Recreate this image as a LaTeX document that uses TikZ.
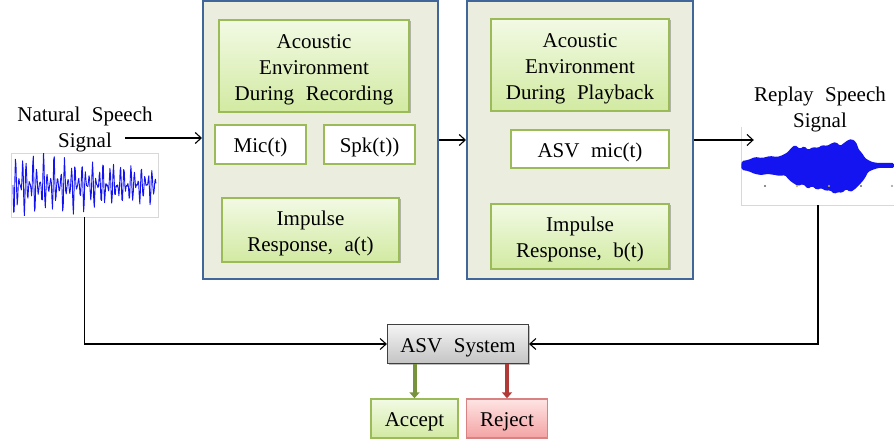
\documentclass[tikz,border=0pt]{standalone}
\usepackage{fontspec}
\setmainfont{Liberation Serif}[WordSpace=2.2]
\usetikzlibrary{arrows.meta,shadows,calc}

\definecolor{frameblue}{HTML}{41679A}
\definecolor{framefill}{HTML}{EBEEDF}
\definecolor{boxgreen}{HTML}{9BBB59}
\definecolor{greentop}{HTML}{F2FAE4}
\definecolor{greenbot}{HTML}{D2EAA2}
\definecolor{greytop}{HTML}{F4F4F4}
\definecolor{greybot}{HTML}{C4C4C4}
\definecolor{redtop}{HTML}{FFE4E4}
\definecolor{redbot}{HTML}{F3A3A3}
\definecolor{redline}{HTML}{D98282}
\definecolor{okgreen}{HTML}{77933C}
\definecolor{badred}{HTML}{B23A36}
\definecolor{wave}{HTML}{1414F0}
\definecolor{imgedge}{HTML}{D8D8D8}

% centred block of lines, set a little below the middle of its node
\newcommand{\lowertext}[1]{\raisebox{-3pt}[\height][\depth]{\begin{tabular}{@{}c@{}}#1\end{tabular}}}

\tikzset{
  frame/.style={draw=frameblue, line width=2pt, fill=framefill},
  envbox/.style={draw=boxgreen, line width=1.4pt, top color=greentop, bottom color=greenbot,
    inner sep=0pt,
    drop shadow={shadow xshift=1.5pt, shadow yshift=-1.5pt, fill=black, opacity=0.25}},
  plainbox/.style={draw=boxgreen, line width=2pt, fill=white, inner sep=0pt},
  asvbox/.style={draw=black!75, line width=1.2pt, top color=greytop, bottom color=greybot,
    inner sep=0pt, drop shadow={shadow xshift=1.5pt, shadow yshift=-1.5pt, fill=black, opacity=0.25}},
  okbox/.style={draw=boxgreen, line width=1.4pt, top color=greentop, bottom color=greenbot, inner sep=0pt},
  badbox/.style={draw=redline, line width=1.4pt, top color=redtop, bottom color=redbot, inner sep=0pt},
  conn/.style={draw=black, line width=1.1pt, -{Straight Barb[length=6pt,width=11pt]}},
  okarrow/.style={draw=okgreen, line width=4pt, -{Triangle[width=10pt,length=6pt]}},
  badarrow/.style={draw=badred, line width=4pt, -{Triangle[width=10pt,length=6pt]}},
  label/.style={inner sep=0pt},
}

\begin{document}
\begin{tikzpicture}[x=1pt, y=-1pt, font=\fontsize{21}{26}\selectfont]
\useasboundingbox (0,0) rectangle (894,446);

% two environment frames
\node[frame, minimum width=235pt, minimum height=278pt] (box1) at (320.5,140) {};
\node[frame, minimum width=226pt, minimum height=278pt] (box2) at (580,140) {};

% recording environment
\node[envbox, minimum width=190pt, minimum height=92pt] (envrec) at (314,66)
  {\lowertext{Acoustic\\Environment\\During Recording}};
\node[plainbox, minimum width=91pt, minimum height=39pt] (mic) at (260.5,144.5) {\lowertext{Mic(t)}};
\node[plainbox, minimum width=91pt, minimum height=39pt] (spk) at (369.5,144.5) {\lowertext{Spk(t))}};
\node[envbox, minimum width=177pt, minimum height=64pt] (impa) at (310.5,230)
  {\lowertext{Impulse\\Response, a(t)}};

% playback environment
\node[envbox, minimum width=178pt, minimum height=92pt] (envplay) at (580,65)
  {\lowertext{Acoustic\\Environment\\During Playback}};
\node[plainbox, minimum width=158pt, minimum height=38pt] (asvmic) at (590,149) {\lowertext{ASV mic(t)}};
\node[envbox, minimum width=178pt, minimum height=65pt] (impb) at (580,236.5)
  {\lowertext{Impulse\\Response, b(t)}};

% natural speech signal and its waveform
\node[label] (nattext) at (85,126) {\lowertext{Natural Speech\\Signal}};
\node[draw=imgedge, line width=0.8pt, minimum width=147pt, minimum height=64pt, inner sep=0pt]
  (natwave) at (84.5,185) {};
\begin{scope}
  \clip (12,154) rectangle (157,216);
  \draw[wave, line width=0.9pt, line join=round]
    plot[domain=0:143, samples=240]
    ({\x+13}, {185 + (33-15*\x/143)*sin(103*\x)*(0.55+0.45*sin(37*\x+20)) + 4*sin(103*\x)*cos(71*\x)});
\end{scope}

% replay speech signal: envelope of the recorded waveform
\node[label] (reptext) at (820,106) {\lowertext{Replay Speech\\Signal}};
\node[inner sep=0pt, minimum width=152pt, minimum height=78pt] (repwave) at (818,166) {};
\draw[imgedge, line width=0.8pt] (repwave.north west) -- (repwave.south west) -- (repwave.south east);
\fill[wave, rounded corners=1.5pt]
  (741,166) -- (742,161) -- (748,160) -- (755,157) -- (762,158) -- (770,156) -- (777,157)
  -- (783,155) -- (788,152) -- (791,148) -- (795,145) -- (800,149) -- (804,146) -- (808,150)
  -- (813,147) -- (818,148) -- (822,145) -- (827,146) -- (832,143) -- (836,142) -- (840,146)
  -- (844,143) -- (848,140) -- (852,139) -- (856,142) -- (859,150) -- (862,153) -- (865,158)
  -- (868,160) -- (872,162) -- (878,163) -- (886,163) -- (894,163)
  -- (894,168) -- (886,168) -- (878,168) -- (872,170) -- (868,172) -- (865,178) -- (862,182)
  -- (858,186) -- (854,190) -- (850,192) -- (846,189) -- (842,193) -- (838,192) -- (834,194)
  -- (830,190) -- (826,191) -- (821,188) -- (817,190) -- (812,186) -- (808,189) -- (803,184)
  -- (798,186) -- (793,183) -- (789,180) -- (785,175) -- (780,176) -- (775,175) -- (768,174)
  -- (761,175) -- (755,174) -- (748,171) -- (742,170) -- cycle;
\foreach \dx/\dc in {765/black!60, 797/yellow!70!black, 829/yellow!70!black, 861/black!60, 892/black!40}
  \fill[\dc] (\dx,186) circle (1.2pt);

% ASV system and decisions
\node[asvbox, minimum width=141pt, minimum height=39pt] (asv) at (458,344) {\lowertext{ASV System}};
\node[okbox, minimum width=87pt, minimum height=39pt] (accept) at (414.5,418.5) {\lowertext{Accept}};
\node[badbox, minimum width=81pt, minimum height=39pt] (reject) at (507,418.5) {\lowertext{Reject}};

% signal flow
\coordinate (natout) at (125,138);
\coordinate (repin) at ([xshift=12pt]repwave.west |- box2.east);
\draw[conn] (natout) -- (natout -| box1.west);
\draw[conn] (box1.east) -- (box2.west);
\draw[conn] (box2.east) -- (repin);
\draw[conn] (natwave.south) |- (asv.west);
\draw[conn] (repwave.south) |- (asv.east);
\draw[okarrow] (asv.south -| accept) -- (accept.north);
\draw[badarrow] (asv.south -| reject) -- (reject.north);
\end{tikzpicture}
\end{document}
